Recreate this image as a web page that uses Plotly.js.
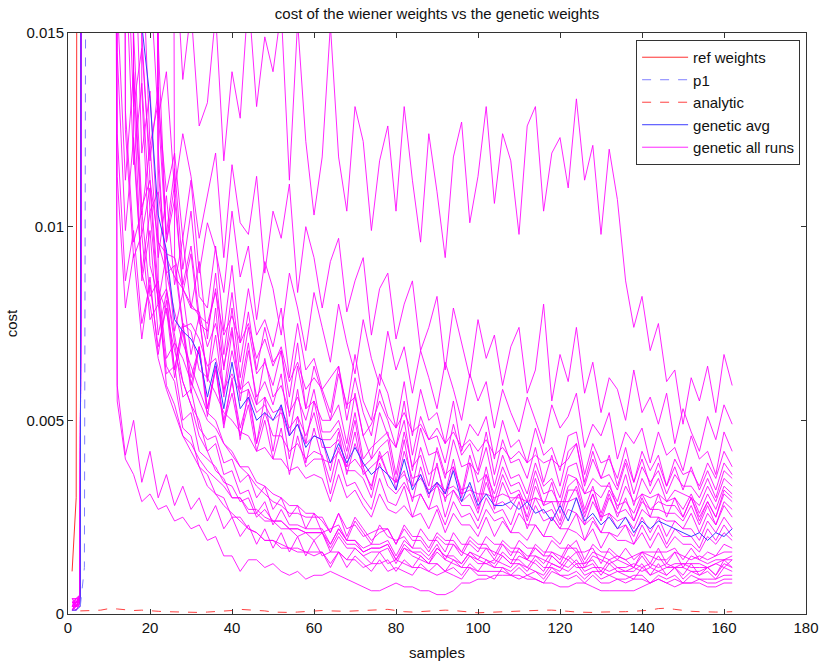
<!DOCTYPE html>
<html><head><meta charset="utf-8">
<script src="https://cdn.plot.ly/plotly-3.0.1.min.js"></script>
<style>html,body{margin:0;padding:0;background:#fff}#chart{width:822px;height:664px}</style>
</head><body><div id="chart"></div>
<script>
// values are cost in units of 1e-4; 999 = above the plotted range
const COST_UNIT = 1e-4;
const samples = [1,2,3,4,6,8,10,12,14,16,18,20,22,24,26,28,30,32,34,36,38,40,42,44,46,48,50,52,54,56,58,60,62,64,66,68,70,72,74,76,78,80,82,84,86,88,90,92,94,96,98,100,102,104,106,108,110,112,114,116,118,120,122,124,126,128,130,132,134,136,138,140,142,144,146,148,150,152,154,156,158,160,162];

const refWeights = [11, 30, 999];
const p1 = [null, null, 2, 12, 999];
const analytic = [null, null, 0.8,
 0.8,0.9,1.0,1.4,1.3,1.1,0.9,1.0,0.8,0.7,
 0.6,0.5,0.5,0.4,0.4,0.5,0.6,0.7,0.9,1.2,
 1.1,1.0,0.8,0.5,0.4,0.4,0.5,0.6,0.8,0.9,
 0.8,0.7,0.7,0.8,0.9,1.0,1.1,1.2,0.9,0.6,
 0.5,0.6,0.8,0.9,1.0,0.9,0.7,0.5,0.3,0.4,
 0.5,0.6,0.7,0.8,0.9,0.9,1.0,1.0,0.9,0.7,
 0.5,0.4,0.4,0.5,0.5,0.6,0.6,0.7,0.8,1.0,
 1.4,1.5,1.2,0.9,0.7,0.6,0.5,0.5,0.5,0.6];
const geneticAvg = [1, 1, 2,
 999,999,999,999,999,999,999,152,133,103,
 94,76,73,71,67,56,65,53,65,53,
 56,50,52,50,54,46,49,43,46,45,
 39,44,39,43,39,36,38,36,32,40,
 32,36,31,34,31,37,29,34,28,31,
 28,28,29,27,29,26,27,24,28,24,
 30,24,26,23,25,22,25,21,24,22,
 24,23,22,21,20,21,19,21,20,22];

const run01 = [2,3,4,
 999,999,999,999,999,999,999,999,999,999,
 999,175,138,156,126,132,155,117,140,128,
 160,131,149,140,156,112,153,122,103,118,
 152,118,104,131,122,99,117,126,104,131,
 112,96,124,109,92,118,127,101,113,131,
 106,124,117,98,126,131,104,119,123,110,
 133,112,121,98,120,107,86,74,82,68,
 75,60,63,49,61,55,64,52,67,59];
const run02 = [3,2,4,
 999,999,999,999,999,999,999,999,165,128,
 140,109,124,113,97,108,119,92,116,101,
 98,113,88,104,97,111,83,100,92,79,
 91,97,78,86,92,72,84,88,71,80,
 86,68,74,82,63,79,70,61,76,66,
 72,59,69,74,57,63,80,55,67,60,
 74,57,65,52,61,58,50,63,52,56,
 49,57,44,53,47,42,51,45,54,49];
const run03 = [2,2,3,
 999,999,999,999,999,999,999,175,121,132,
 109,119,97,112,88,101,94,83,104,87,
 95,76,91,84,72,88,79,68,83,74,
 65,80,70,62,76,66,59,73,63,69,
 57,68,61,53,65,58,50,62,55,60,
 48,58,52,47,56,50,44,54,48,51,
 57,43,49,46,52,40,47,44,48,39,
 47,41,43,37,46,40,42,36,47,42];
const run04 = [1,3,5,
 999,999,999,999,999,185,131,146,117,136,
 98,115,89,104,82,79,95,73,90,70,
 84,72,76,69,79,61,75,63,66,58,
 61,64,53,67,55,50,62,57,48,60,
 46,58,50,52,44,55,42,49,46,51,
 40,50,43,45,39,48,41,43,37,46,
 47,36,44,39,40,35,43,34,42,37,
 41,33,40,36,37,33,39,35,42,38];
const run05 = [3,4,3,
 999,999,999,999,158,112,140,103,121,92,
 108,85,97,79,91,71,88,67,83,65,
 78,63,74,65,68,56,70,53,64,57,
 50,62,54,56,46,49,55,50,43,55,
 41,51,45,46,39,49,41,44,37,47,
 36,45,39,40,35,43,34,41,33,42,
 44,33,40,35,36,32,39,31,38,34,
 37,31,36,33,33,30,35,30,37,35];
const run06 = [2,4,4,
 999,999,999,999,999,999,999,999,999,148,
 96,111,83,93,75,73,84,63,79,61,
 74,62,65,59,68,51,64,53,55,50,
 50,54,44,57,46,40,52,46,43,50,
 37,48,41,42,35,45,38,39,36,43,
 33,41,35,36,31,39,33,35,30,38,
 39,31,35,33,33,29,36,28,35,31,
 35,29,32,31,30,28,33,29,35,33];
const run07 = [1,2,4,
 999,999,999,999,999,170,116,137,104,109,
 92,87,84,79,78,69,75,64,74,58,
 70,54,66,56,59,52,56,50,58,47,
 47,50,42,52,40,43,45,47,36,47,
 38,41,33,43,36,38,31,41,34,36,
 31,38,33,34,29,37,31,32,28,36,
 35,31,32,30,34,27,33,29,31,30,
 31,29,30,27,31,26,31,27,33,31];
const run08 = [3,3,5,
 999,999,999,999,999,999,185,119,135,96,
 93,92,84,80,77,61,79,57,73,55,
 68,56,60,54,62,46,58,44,55,45,
 45,48,40,50,38,40,43,45,34,45,
 33,43,36,38,31,40,30,39,29,38,
 29,36,31,32,27,35,28,34,26,33,
 35,27,33,26,32,28,29,26,31,27,
 29,28,28,25,30,25,29,25,31,29];
const run09 = [2,3,3,
 999,999,999,999,145,99,123,88,104,80,
 93,73,83,67,77,60,72,56,68,58,
 60,54,56,52,53,48,51,46,52,43,
 43,45,38,47,36,38,40,42,32,42,
 35,36,30,39,29,38,32,33,27,36,
 27,34,29,31,25,33,28,29,24,32,
 32,25,31,24,30,26,27,24,29,27,
 27,26,26,24,28,23,28,23,29,27];
const run10 = [4,3,4,
 999,999,999,999,999,999,999,999,999,115,
 88,90,74,75,71,64,66,58,62,57,
 58,52,54,50,52,46,49,44,46,45,
 37,47,36,44,38,32,42,36,34,37,
 29,38,31,33,30,32,29,31,26,34,
 28,29,27,31,24,30,26,27,23,29,
 30,23,29,25,26,24,25,22,27,25,
 25,24,24,22,26,21,26,23,28,25];
const run11 = [2,1,3,
 999,999,999,999,124,86,99,75,85,69,
 79,61,73,59,69,53,64,50,60,48,
 56,44,52,46,46,42,44,40,42,41,
 34,43,37,37,35,30,39,33,31,34,
 30,31,27,34,25,32,28,28,24,30,
 26,27,23,29,22,28,24,25,22,27,
 26,23,25,21,26,22,23,20,25,21,
 25,20,24,22,22,19,24,21,25,22];
const run12 = [3,2,5,
 999,999,999,999,999,999,135,86,99,72,
 83,63,75,61,69,53,63,49,57,46,
 54,42,50,40,48,36,46,38,40,40,
 31,40,33,34,30,27,35,29,28,33,
 25,31,27,28,23,29,25,26,22,27,
 24,25,21,26,23,23,20,25,22,22,
 26,19,24,21,21,20,23,18,23,19,
 23,18,22,20,20,17,22,19,23,20];
const run13 = [1,3,3,
 999,999,999,999,999,999,999,999,999,999,
 999,92,75,73,63,61,57,52,50,47,
 46,42,43,40,40,37,38,35,36,35,
 29,36,30,32,28,25,31,27,26,28,
 25,26,22,27,21,26,23,23,20,25,
 20,24,21,21,19,23,20,20,18,22,
 21,19,22,17,21,19,19,18,21,17,
 21,17,20,18,18,16,20,18,21,19];
const run14 = [2,2,4,
 999,999,999,999,999,130,96,104,82,86,
 66,70,56,58,48,45,46,39,40,34,
 36,30,33,27,30,25,28,22,26,21,
 22,23,19,24,21,18,23,20,19,20,
 17,22,19,19,16,21,18,18,16,20,
 18,18,15,19,17,17,15,19,17,17,
 19,14,18,16,16,14,17,14,16,16,
 16,16,17,14,17,14,16,15,18,17];
const run15 = [3,4,5,
 999,999,999,999,999,999,140,98,110,80,
 84,70,66,60,55,50,48,44,42,38,
 38,34,33,31,30,28,28,26,26,24,
 21,26,22,23,20,21,22,22,18,23,
 20,20,17,21,19,19,16,20,18,18,
 15,19,17,17,14,18,16,16,14,18,
 16,16,17,13,17,15,14,15,16,13,
 17,13,16,15,14,15,14,15,16,16];
const run16 = [1,2,3,
 999,999,999,999,999,999,999,150,112,96,
 88,78,70,64,58,52,50,44,41,38,
 36,33,31,29,28,26,26,25,25,25,
 21,26,20,25,22,19,21,22,18,22,
 19,19,16,20,18,18,15,19,17,17,
 14,18,16,16,14,17,15,15,13,17,
 17,13,16,15,14,15,14,12,16,15,
 14,14,16,12,15,14,13,14,14,15];
const run17 = [2,3,5,
 999,999,999,999,999,125,92,98,76,80,
 62,64,50,52,42,40,38,34,33,29,
 30,25,27,24,24,22,22,21,21,21,
 18,22,19,19,17,18,18,19,15,19,
 17,17,15,18,14,18,16,15,14,17,
 16,15,13,17,15,15,13,16,15,14,
 16,12,15,14,13,14,13,12,15,12,
 15,12,13,13,13,13,12,13,14,14];
const run18 = [4,2,3,
 999,999,999,999,999,999,150,105,112,84,
 78,68,60,54,50,42,44,36,37,31,
 32,26,29,23,27,23,23,22,22,22,
 18,22,19,19,16,17,17,18,14,18,
 16,16,14,17,15,15,13,16,15,14,
 13,16,14,14,12,15,14,13,12,15,
 13,13,14,11,14,12,12,13,12,13,
 12,13,12,13,12,12,12,13,12,14];
const run19 = [2,2,2,
 999,999,999,999,999,999,999,999,999,84,
 59,54,46,44,40,37,35,33,30,30,
 27,27,25,24,24,22,22,21,21,21,
 17,21,18,18,16,17,17,18,14,17,
 16,15,13,17,15,14,13,16,14,13,
 14,13,12,15,14,13,11,15,13,12,
 14,11,12,12,11,12,11,11,13,10,
 13,10,12,12,11,11,12,10,13,12];
const run20 = [3,3,4,
 999,999,999,999,59,41,50,34,42,30,
 36,28,33,27,30,24,28,22,25,20,
 23,18,22,17,21,16,20,15,19,15,
 16,16,14,17,15,13,16,13,14,13,
 12,15,13,13,11,14,12,12,11,14,
 12,12,11,13,12,11,10,13,12,11,
 13,10,11,11,10,11,10,9,12,10,
 11,10,12,9,11,10,11,9,12,11];
const run21 = [1,2,5,
 999,999,999,999,999,999,120,88,80,66,
 58,52,46,42,38,33,31,28,26,24,
 22,21,19,19,17,17,16,16,15,16,
 13,16,14,14,12,13,13,14,11,14,
 12,12,11,13,11,12,10,13,11,11,
 11,11,10,12,10,11,9,12,10,10,
 11,9,11,9,10,9,9,10,10,8,
 10,9,10,8,10,9,9,9,10,10];
const run22 = [2,4,3,
 999,999,999,999,999,999,999,135,90,82,
 64,60,48,46,38,36,31,30,25,25,
 22,21,19,19,18,17,17,16,16,16,
 12,16,12,15,13,11,14,11,12,11,
 10,13,11,10,11,10,9,12,10,10,
 9,12,10,9,10,9,8,11,10,9,
 10,8,10,8,8,9,8,9,9,8,
 9,8,9,8,8,9,8,8,9,9];
const run23 = [1,1,3,
 999,999,999,999,55,40,36,29,31,27,
 28,24,25,22,23,19,20,15,15,11,
 14,14,12,13,11,10,11,9,10,10,
 11,10,9,8,7,6,6,7,8,7,
 7,6,6,5,5,6,8,8,9,9,
 10,10,10,10,9,9,8,8,7,7,
 8,8,7,6,6,6,6,6,7,8,
 9,8,7,8,8,8,7,7,8,8];
const run24 = [3,2,3,
 999,999,999,999,999,999,999,999,999,120,
 84,72,60,54,46,42,37,35,30,30,
 26,26,24,24,22,22,20,21,19,21,
 16,20,17,17,15,16,16,17,13,17,
 15,14,13,16,14,13,12,15,13,13,
 12,15,13,13,11,14,12,12,11,14,
 12,12,13,10,13,11,11,12,11,12,
 11,12,12,10,13,10,12,10,14,12];
const run25 = [2,3,4,
 999,999,999,999,999,999,999,999,999,130,
 96,107,85,95,77,75,83,72,77,70,
 75,66,71,64,69,60,65,58,61,58,
 52,64,50,61,52,46,58,51,48,52,
 47,49,45,48,44,47,43,45,42,45,
 41,43,40,42,39,41,39,40,38,40,
 44,34,42,35,41,33,40,34,40,33,
 39,33,38,32,38,32,37,32,39,36];
const run26 = [4,4,5,
 999,999,999,999,113,79,93,71,87,67,
 81,63,75,57,69,51,64,48,61,45,
 58,44,56,42,54,40,51,39,48,40,
 39,42,38,40,37,33,41,36,34,36,
 33,35,32,34,32,33,31,32,31,31,
 30,31,30,30,29,30,29,29,29,29,
 33,26,31,25,31,25,30,24,30,25,
 31,25,30,25,30,24,29,25,32,30];

const allRuns = [run01,run02,run03,run04,run05,run06,run07,run08,run09,run10,run11,run12,run13,
                 run14,run15,run16,run17,run18,run19,run20,run21,run22,run23,run24,run25,run26];

const toCost = arr => arr.map(v => v == null ? null : v * COST_UNIT);
const traces = [];
allRuns.forEach((r, i) => {
  traces.push({x: samples.slice(0, r.length), y: toCost(r), mode: 'lines', type: 'scatter',
    name: 'genetic all runs', legendgroup: 'runs', showlegend: i === 0, legendrank: 5,
    line: {color: '#ff00ff', width: 1}, opacity: 0.85, hoverinfo: 'skip'});
});
traces.push({x: samples.slice(0, geneticAvg.length), y: toCost(geneticAvg), mode: 'lines', type: 'scatter',
  name: 'genetic avg', legendrank: 4, line: {color: '#3c3cff', width: 1}, hoverinfo: 'skip'});
traces.push({x: samples.slice(0, refWeights.length), y: toCost(refWeights), mode: 'lines', type: 'scatter',
  name: 'ref weights', legendrank: 1, line: {color: '#ff3030', width: 1}, hoverinfo: 'skip'});
traces.push({x: samples.slice(0, p1.length), y: toCost(p1), mode: 'lines', type: 'scatter',
  name: 'p1', legendrank: 2, line: {color: '#8080ff', width: 1, dash: 'dash'}, hoverinfo: 'skip'});
traces.push({x: samples.slice(0, analytic.length), y: toCost(analytic), mode: 'lines', type: 'scatter',
  name: 'analytic', legendrank: 3, line: {color: '#ff4040', width: 1, dash: 'dash'}, hoverinfo: 'skip'});

const fontFam = 'Liberation Sans Narrow, Liberation Sans, Arial, sans-serif';
const axisCommon = {showgrid: false, zeroline: false, showline: true, linecolor: '#333', linewidth: 1,
  mirror: 'ticks', ticks: 'inside', ticklen: 5, tickcolor: '#333', tickfont: {size: 15, color: '#111'}};
const layout = {
  width: 822, height: 664,
  margin: {l: 68, r: 16, t: 33, b: 50},
  paper_bgcolor: '#fff', plot_bgcolor: '#fff',
  font: {family: fontFam, size: 15, color: '#111'},
  title: {text: 'cost of the wiener weights vs the genetic weights', x: 0.5, xref: 'paper',
    y: 1 - 14/664, yref: 'container', yanchor: 'middle', font: {size: 15}},
  xaxis: Object.assign({}, axisCommon, {range: [0, 180], tick0: 0, dtick: 20,
    title: {text: 'samples', standoff: 12, font: {size: 15}}}),
  yaxis: Object.assign({}, axisCommon, {range: [0, 0.015], tick0: 0, dtick: 0.005,
    title: {text: 'cost', standoff: 5, font: {size: 15}}}),
  showlegend: true,
  legend: {x: 0.992, y: 0.988, xanchor: 'right', yanchor: 'top', bgcolor: '#fff',
    bordercolor: '#333', borderwidth: 1, font: {size: 15}, itemwidth: 46, tracegroupgap: 0}
};
Plotly.newPlot('chart', traces, layout, {displayModeBar: false, staticPlot: true});
</script></body></html>
